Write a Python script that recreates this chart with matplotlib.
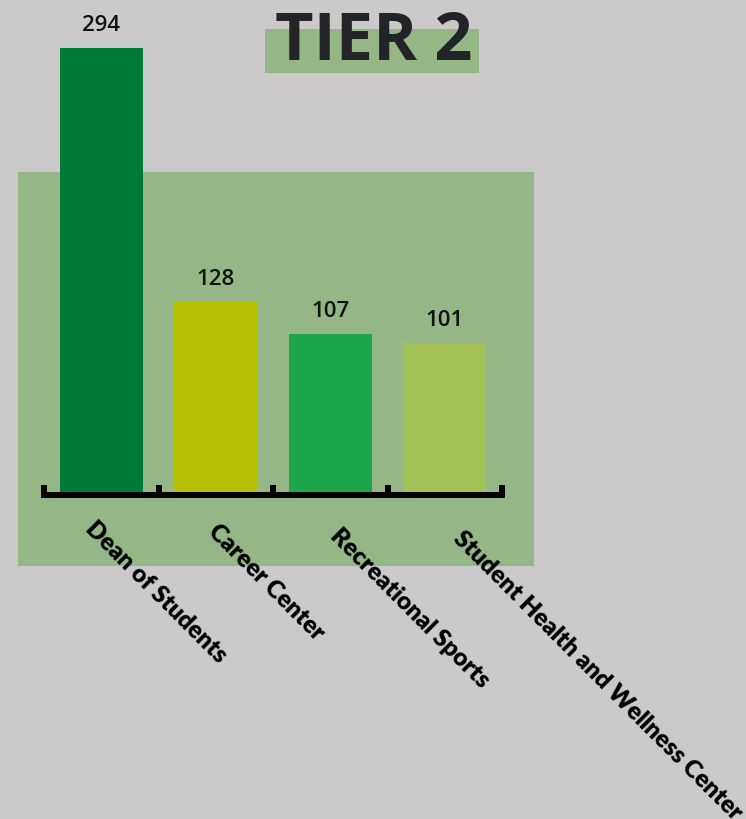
import matplotlib
matplotlib.use("Agg")
import matplotlib.pyplot as plt
from matplotlib.patches import Rectangle
from matplotlib.transforms import ScaledTranslation, blended_transform_factory

# Data
categories = ["Dean of Students", "Career Center", "Recreational Sports",
              "Student Health and Wellness Center"]
values = [294, 128, 107, 101]
bar_colors = ["#007A37", "#B7BF02", "#1EA64A", "#A3C057"]
title = "TIER 2"

BG = "#CBC9CA"
PANEL = "#95B685"
W, H, DPI = 746, 819, 100

fig = plt.figure(figsize=(W / DPI, H / DPI), dpi=DPI, facecolor=BG)


def px_rect(x0, y0, x1, y1, **kw):
    """Rectangle given in pixel coordinates measured from the top-left."""
    return Rectangle((x0 / W, 1 - y1 / H), (x1 - x0) / W, (y1 - y0) / H,
                     transform=fig.transFigure, **kw)


# Decorative panels behind the chart and the title
fig.add_artist(px_rect(18, 172, 534, 566, facecolor=PANEL, edgecolor="none", zorder=-2))
fig.add_artist(px_rect(265, 29, 479, 73, facecolor=PANEL, edgecolor="none", zorder=-2))

fig.text(373.5 / W, 1 - 60 / H, title, ha="center", va="baseline",
         fontsize=48, fontweight="bold", family="Open Sans", color="#222428", zorder=5)

# Plot area
ax_left, ax_right, ax_top, ax_bottom = 44, 502, 48, 495
ax = fig.add_axes([ax_left / W, 1 - ax_bottom / H, (ax_right - ax_left) / W,
                   (ax_bottom - ax_top) / H])
ax.patch.set_visible(False)

x = list(range(len(categories)))
ax.bar(x, values, width=0.726, color=bar_colors, edgecolor="none", zorder=2)

ax.set_xlim(-0.5, len(categories) - 0.5)
ax.set_ylim(1.57, max(values))

for s in ("top", "left", "right"):
    ax.spines[s].set_visible(False)
ax.spines["bottom"].set_linewidth(4.32)
ax.spines["bottom"].set_color("black")
ax.spines["bottom"].set_zorder(3)

ax.set_yticks([])
ax.set_xticks(x)
ax.set_xticklabels([])
ax.tick_params(axis="x", which="major", length=0)
ax.set_xticks([i - 0.5 for i in range(len(categories) + 1)], minor=True)
ax.tick_params(axis="x", which="minor", direction="in", length=7.2, width=4.32,
               color="black")

# Value labels above bars
for xi, v in zip(x, values):
    ax.annotate(str(v), (xi, v), xytext=(0, 12), textcoords="offset pixels",
                ha="center", va="bottom", fontsize=16, fontweight="semibold",
                family="Open Sans", color="#111111", annotation_clip=False)

# Rotated category labels
trans = blended_transform_factory(ax.transData, ax.transAxes)
for i, name in enumerate(categories):
    dx = (-4.5 + 8 * i) / DPI
    dy = -(22 + 3.5 * i) / DPI
    t = trans + ScaledTranslation(dx, dy, fig.dpi_scale_trans)
    ax.text(i, 0, name, transform=t, rotation=-45, rotation_mode="anchor",
            ha="left", va="top", fontsize=17.5, fontweight="heavy", family="Lato",
            color="black", clip_on=False)

fig.savefig("out.png", dpi=DPI, facecolor=BG)
